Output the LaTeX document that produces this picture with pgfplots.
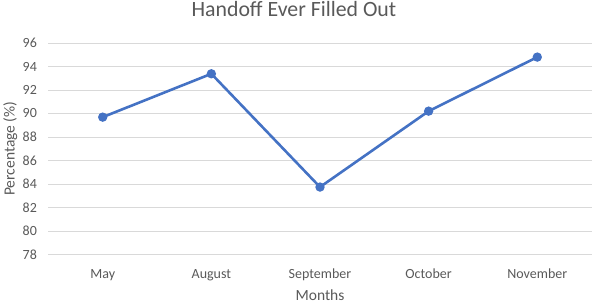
\documentclass[border=0pt]{standalone}
\usepackage{pgfplots}
\pgfplotsset{compat=1.18}
\usepackage{fontspec}
\setmainfont{Carlito}
\definecolor{lineblue}{HTML}{4472C4}
\definecolor{gridgray}{HTML}{D9D9D9}
\definecolor{txtgray}{HTML}{595959}
\begin{document}
\begin{tikzpicture}
\path[use as bounding box] (0pt,0pt) rectangle (595pt,304pt);
\begin{axis}[
  at={(48.4pt,49.5pt)}, anchor=south west,
  scale only axis, width=543.2pt, height=211.5pt,
  xmin=-0.5, xmax=4.5, ymin=78, ymax=96,
  xtick={0,1,2,3,4},
  xticklabels={May,August,September,October,November},
  ytick={78,80,...,96},
  axis line style={draw=none},
  tick style={draw=none},
  ymajorgrids, grid style={gridgray, line width=0.9pt},
  tick label style={font=\fontsize{14}{16}\selectfont, text=txtgray},
  /pgf/number format/assume math mode=true,
  yticklabel style={anchor=east, xshift=-8pt},
  xticklabel style={anchor=base, yshift=-24pt},
  xlabel={Months}, ylabel={Percentage (\%)},
  label style={font=\fontsize{15.5}{18}\selectfont, text=txtgray},
  xlabel style={at={(axis description cs:0.5,0)}, anchor=base, yshift=-46pt},
  ylabel style={at={(axis description cs:-0.0624,0.5)}, anchor=base},
  title={Handoff Ever Filled Out},
  title style={at={(axis description cs:0.452,1)}, anchor=base, font=\fontsize{21.8}{24}\selectfont, text=txtgray, yshift=20.3pt},
]
\addplot[lineblue, line width=2.6pt, mark=*, mark size=3.3pt, mark options={solid, fill=lineblue, draw=none}] coordinates {
(0,89.69) (1,93.38) (2,83.74) (3,90.2) (4,94.8)
};
\end{axis}
\end{tikzpicture}
\end{document}
